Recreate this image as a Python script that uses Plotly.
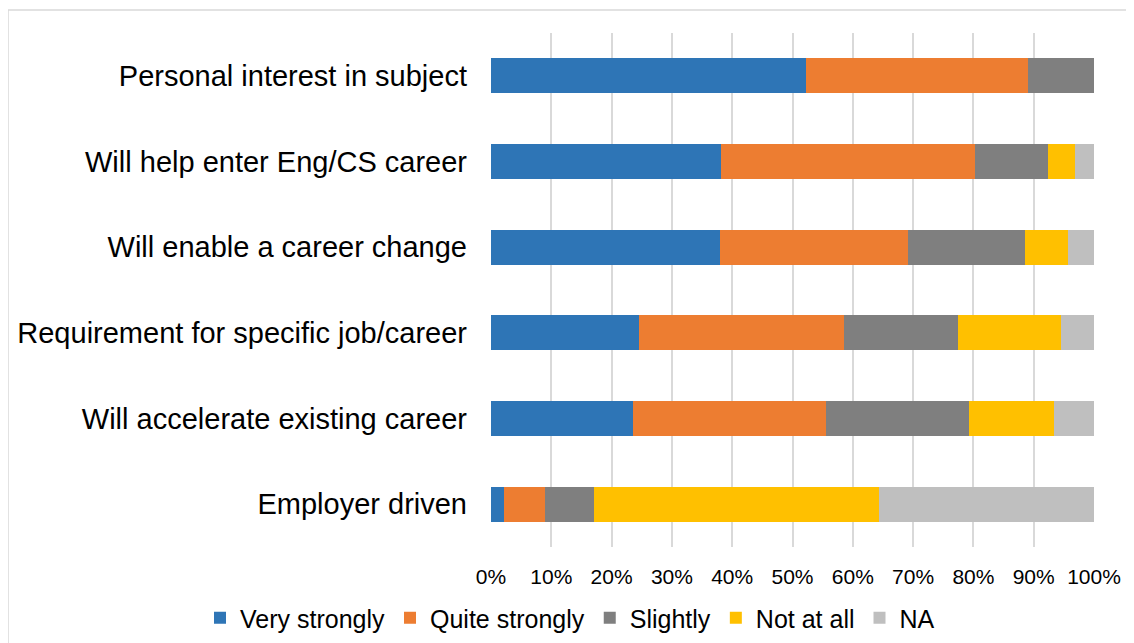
import plotly.graph_objects as go

categories = ['Personal interest in subject', 'Will help enter Eng/CS career',
              'Will enable a career change', 'Requirement for specific job/career',
              'Will accelerate existing career', 'Employer driven']

very_strongly = [52.3, 38.2, 37.9, 24.6, 23.6, 2.2]
quite_strongly = [36.7, 42.0, 31.3, 33.9, 32.0, 6.8]
slightly = [11.0, 12.1, 19.4, 19.0, 23.7, 8.1]
not_at_all = [0.0, 4.5, 7.1, 17.1, 14.1, 47.3]
na = [0.0, 3.2, 4.3, 5.4, 6.6, 35.6]

series = [
    ('Very strongly', very_strongly, '#2E75B6'),
    ('Quite strongly', quite_strongly, '#ED7D31'),
    ('Slightly', slightly, '#7F7F7F'),
    ('Not at all', not_at_all, '#FFC000'),
    ('NA', na, '#BFBFBF'),
]

fig = go.Figure()
for name, vals, color in series:
    fig.add_trace(go.Bar(
        y=categories,
        x=[v / 100 for v in vals],
        name=name,
        orientation='h',
        marker=dict(color=color, line=dict(width=0)),
    ))

# page body has an 8px margin, so the figure starts at (8, 8)
W, H = 1126, 635
ml, mr, mt, mb = 483, 40, 25, 96
pw, ph = W - ml - mr, H - mt - mb

fig.update_layout(
    barmode='stack',
    bargap=0.59,
    width=W, height=H,
    margin=dict(l=ml, r=mr, t=mt, b=mb, pad=0, autoexpand=False),
    plot_bgcolor='white',
    paper_bgcolor='white',
    font=dict(family='Liberation Sans, Arial, sans-serif', color='#000000'),
    xaxis=dict(
        range=[0, 1], tickvals=[i / 10 for i in range(11)], tickformat='.0%',
        showgrid=True, gridcolor='#D9D9D9', gridwidth=1.5,
        zeroline=False, showline=False, ticks='',
        tickfont=dict(size=21), ticklabelstandoff=15,
    ),
    yaxis=dict(
        autorange='reversed', showgrid=False, zeroline=False, showline=False,
        ticks='', tickfont=dict(size=29), ticklabelstandoff=23,
    ),
    legend=dict(
        orientation='h', xref='paper', x=(192 - ml) / pw, xanchor='left',
        yref='paper', y=-(610 - mt - ph) / ph, yanchor='middle',
        font=dict(size=25), traceorder='normal',
        itemwidth=30, bgcolor='rgba(0,0,0,0)',
    ),
    shapes=[dict(
        type='rect', xref='paper', yref='paper',
        x0=-ml / pw, x1=(W + 10 - ml) / pw,
        y0=-(H + 10 - mt - ph) / ph, y1=(H - 2 - mb) / ph,
        line=dict(color='#D9D9D9', width=1.5), fillcolor='rgba(0,0,0,0)',
        layer='below',
    )],
)

fig.write_html('out.html')
